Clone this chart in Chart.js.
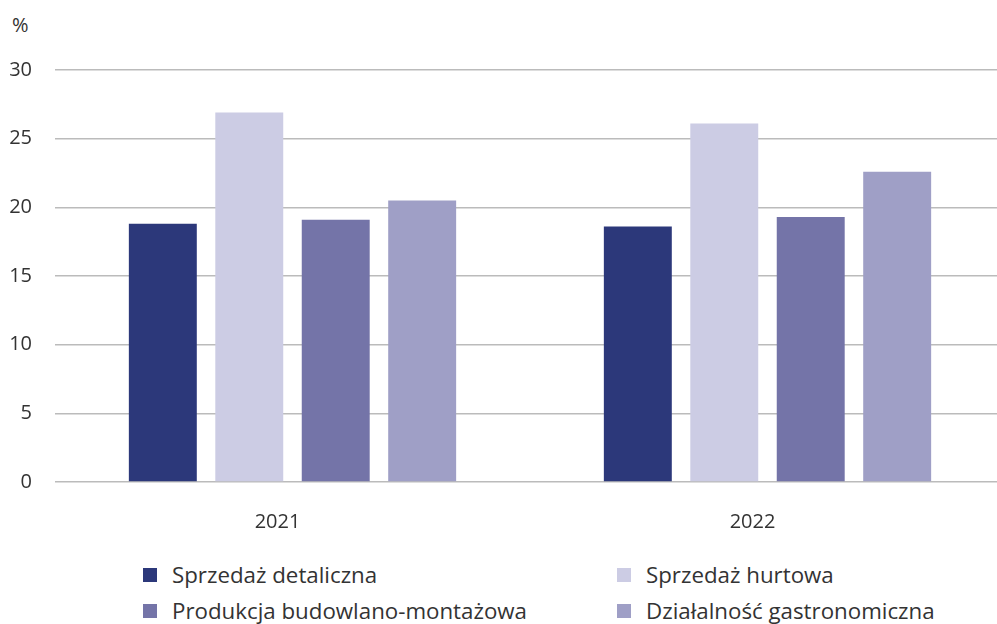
<!DOCTYPE html>
<html>
<head>
<meta charset="utf-8">
<script src="https://cdn.jsdelivr.net/npm/chart.js@4"></script>
<style>
  body { margin: 0; background: #fff; font-family: "Open Sans", sans-serif; color: #333; overflow: hidden; }
  #wrap { position: relative; width: 997px; height: 624px; overflow: hidden; }
  #box { position: absolute; left: 0; top: 0; width: 1005px; height: 554px; }
  #unit { position: absolute; left: 12px; top: 11px; font-size: 20px; }
  #legend { position: absolute; left: 143px; top: 561px; width: 854px; display: grid;
            grid-template-columns: 474px 380px; row-gap: 9px; font-size: 22.3px; }
  .item { display: flex; align-items: center; height: 27px; }
  .sw { width: 14px; height: 14px; margin-right: 15px; }
</style>
</head>
<body>
<div id="wrap">
  <div id="unit">%</div>
  <div id="box"><canvas id="chart"></canvas></div>
  <div id="legend"></div>
</div>
<script>
// values
const years = ['2021', '2022'];
const detaliczna = [18.8, 18.6];
const hurtowa = [26.9, 26.1];
const budowlana = [19.1, 19.3];
const gastro = [20.5, 22.6];
const yTicks = [0, 5, 10, 15, 20, 25, 30];

const series = [
    { label: 'Sprzedaż detaliczna', data: detaliczna, color: '#2c387a' },
    { label: 'Sprzedaż hurtowa', data: hurtowa, color: '#ccccE4' },
    { label: 'Produkcja budowlano-montażowa', data: budowlana, color: '#7474a8' },
    { label: 'Działalność gastronomiczna', data: gastro, color: '#9f9fc6' },
];

const ctx = document.getElementById('chart').getContext('2d');

new Chart(ctx, {
    type: 'bar',
    data: {
        labels: years,
        datasets: series.map(s => ({
            label: s.label,
            data: s.data,
            backgroundColor: s.color,
            borderWidth: 0,
            barPercentage: 0.786,
            categoryPercentage: 0.728,
        }))
    },
    options: {
        responsive: true,
        maintainAspectRatio: false,
        animation: false,
        layout: { padding: { top: 70, right: 0, left: 8, bottom: 0 } },
        plugins: { legend: { display: false }, tooltip: { enabled: false } },
        scales: {
            x: {
                grid: { display: false },
                border: { display: false },
                ticks: { color: '#333', font: { family: 'Open Sans', size: 20 }, padding: 20, labelOffset: -15 }
            },
            y: {
                min: 0,
                max: 30,
                afterBuildTicks: axis => { axis.ticks = yTicks.map(v => ({ value: v })); },
                afterFit: axis => { axis.width = 47; },
                grid: { color: '#bbbbbb', lineWidth: 1.5, drawTicks: false },
                border: { display: false },
                ticks: { color: '#333', font: { family: 'Open Sans', size: 20 }, padding: 23 }
            }
        }
    }
});

// legend in two columns
const legend = document.getElementById('legend');
[0, 1, 2, 3].forEach(i => {
    const s = series[i];
    const item = document.createElement('div');
    item.className = 'item';
    item.innerHTML = `<span class="sw" style="background:${s.color}"></span>${s.label}`;
    legend.appendChild(item);
});
</script>
</body>
</html>
